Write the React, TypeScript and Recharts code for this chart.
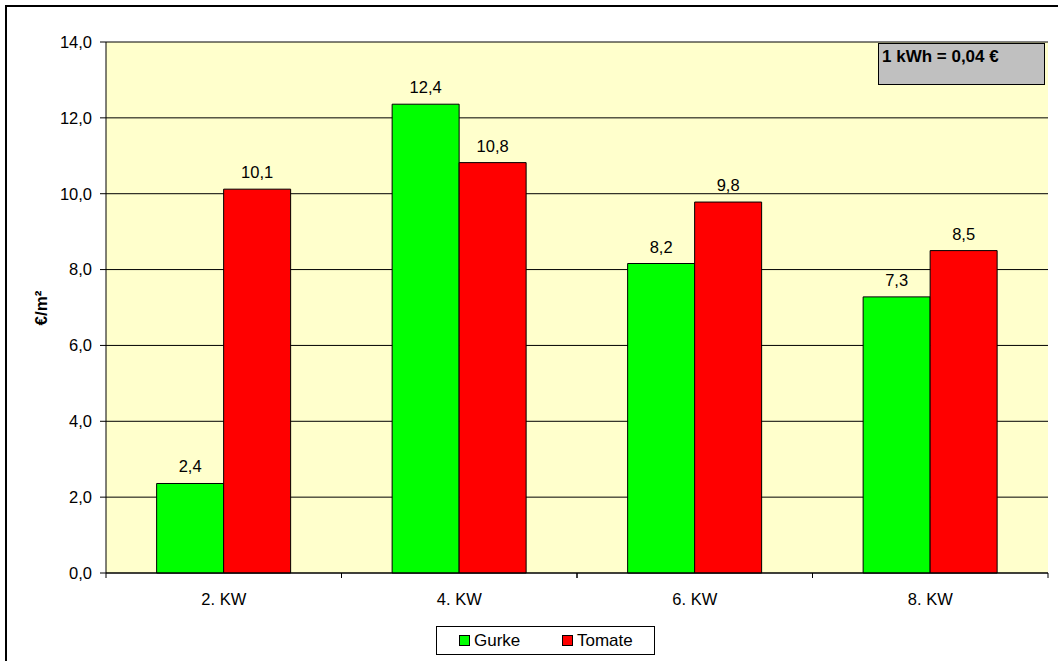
import React from 'react';
import { BarChart, Bar, XAxis, YAxis, CartesianGrid, LabelList } from 'recharts';

const categories = ['2. KW', '4. KW', '6. KW', '8. KW'];
const gurke = [2.36, 12.36, 8.16, 7.28];
const tomate = [10.12, 10.82, 9.78, 8.5];
const yTicks = [0, 2, 4, 6, 8, 10, 12, 14];
const seriesNames = ['Gurke', 'Tomate'];
const seriesColors = ['#00FF00', '#FF0000'];
const annotation = '1 kWh = 0,04 €';
const yLabel = '€/m²';

const data = categories.map((c, i) => ({ cat: c, Gurke: gurke[i], Tomate: tomate[i] }));

const FONT = '"Liberation Sans", Arial, sans-serif';
const fmt = (v: number) => v.toFixed(1).replace('.', ',');

const XTick = (props: any) => {
  const { x, y, payload } = props;
  const half = payload && typeof payload.offset === 'number' && payload.offset > 0 ? payload.offset : 117.6;
  return (
    <g>
      <line x1={x - half} x2={x - half} y1={y} y2={y + 5} stroke="#000" />
      <line x1={x + half} x2={x + half} y1={y} y2={y + 5} stroke="#000" />
      <text x={x} y={y + 32} textAnchor="middle" fontSize={16.5} fontFamily={FONT} fill="#000">
        {payload.value}
      </text>
    </g>
  );
};

const YLabel = () => (
  <text
    x={47}
    y={308}
    transform="rotate(-90 47 308)"
    textAnchor="middle"
    fontSize={17}
    fontWeight="bold"
    fontFamily={FONT}
    fill="#000"
  >
    {yLabel}
  </text>
);

export default function App() {
  return (
    <div
      style={{
        position: 'absolute',
        left: 0,
        top: 0,
        width: 1058,
        height: 661,
        overflow: 'hidden',
        background: '#fff',
        fontFamily: FONT,
      }}
    >
      <div
        style={{
          position: 'absolute',
          left: 5,
          top: 5,
          width: 1100,
          height: 700,
          border: '2px solid #000',
          boxSizing: 'border-box',
        }}
      />
      <div style={{ position: 'absolute', left: 0, top: 0 }}>
        <BarChart
          width={1058}
          height={661}
          data={data}
          margin={{ top: 42, right: 10, bottom: 0, left: 0 }}
          barCategoryGap="21.5%"
          barGap={0}
        >
          <CartesianGrid vertical={false} stroke="#000" fill="#FFFFCC" />
          <XAxis
            dataKey="cat"
            height={88}
            axisLine={{ stroke: '#000' }}
            tickLine={false}
            tickSize={0}
            tickMargin={0}
            tick={<XTick />}
            interval={0}
          />
          <XAxis
            xAxisId="top"
            dataKey="cat"
            orientation="top"
            height={0}
            tick={false}
            tickLine={false}
            axisLine={{ stroke: '#808080' }}
          />
          <YAxis
            width={106}
            domain={[0, 14]}
            ticks={yTicks}
            interval={0}
            tickFormatter={fmt}
            tick={{ fontSize: 16.5, fill: '#000', fontFamily: FONT }}
            axisLine={{ stroke: '#000' }}
            tickLine={{ stroke: '#000' }}
            tickSize={6}
            tickMargin={8}
            label={<YLabel />}
          />
          <YAxis
            yAxisId="right"
            orientation="right"
            width={0}
            domain={[0, 14]}
            tick={false}
            tickLine={false}
            axisLine={{ stroke: '#808080' }}
          />
          {seriesNames.map((s, i) => (
            <Bar
              key={s}
              dataKey={s}
              fill={seriesColors[i]}
              stroke="#000"
              strokeWidth={1}
              isAnimationActive={false}
            >
              <LabelList
                dataKey={s}
                position="top"
                offset={11}
                formatter={(v: any) => fmt(Number(v))}
                style={{ fontSize: 16.5, fill: '#000', fontFamily: FONT }}
              />
            </Bar>
          ))}
        </BarChart>
      </div>
      <div
        style={{
          position: 'absolute',
          left: 878,
          top: 43,
          width: 167,
          height: 42,
          boxSizing: 'border-box',
          background: '#C0C0C0',
          border: '1px solid #000',
          fontWeight: 'bold',
          fontSize: 17,
          padding: '4px 0 0 3px',
          lineHeight: '18px',
          color: '#000',
        }}
      >
        {annotation}
      </div>
      <div
        style={{
          position: 'absolute',
          left: 436,
          top: 626,
          width: 219,
          height: 29,
          boxSizing: 'border-box',
          border: '1px solid #000',
          fontSize: 17,
          color: '#000',
        }}
      >
        {seriesNames.map((s, i) => (
          <div
            key={s}
            style={{
              position: 'absolute',
              left: i === 0 ? 22 : 125,
              top: 0,
              height: 27,
              display: 'flex',
              alignItems: 'center',
            }}
          >
            <span
              style={{
                display: 'inline-block',
                width: 9,
                height: 9,
                background: seriesColors[i],
                border: '1px solid #000',
                marginRight: 4,
              }}
            />
            <span>{s}</span>
          </div>
        ))}
      </div>
    </div>
  );
}
